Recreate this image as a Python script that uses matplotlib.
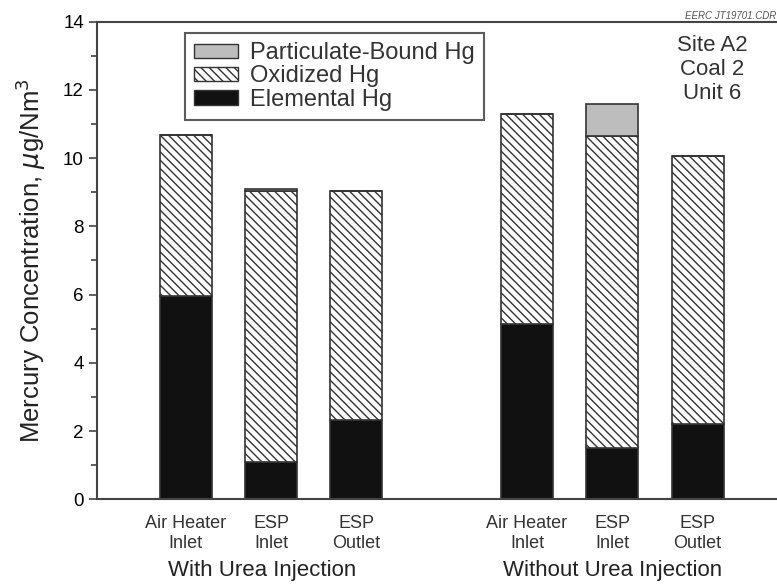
import numpy as np
import matplotlib.pyplot as plt
from matplotlib.patches import Patch

plt.rcParams['font.family'] = ['Liberation Sans', 'DejaVu Sans']
plt.rcParams['hatch.linewidth'] = 1.0

# data
locations = ['Air Heater\nInlet', 'ESP\nInlet', 'ESP\nOutlet',
             'Air Heater\nInlet', 'ESP\nInlet', 'ESP\nOutlet']
positions = [0, 1, 2, 4, 5, 6]
elemental = [5.95, 1.1, 2.33, 5.15, 1.5, 2.2]
oxidized = [4.72, 7.95, 6.72, 6.15, 9.15, 7.85]
particulate = [0.0, 0.05, 0.0, 0.0, 0.95, 0.0]
groups = ['With Urea Injection', 'Without Urea Injection']
group_centers = [0.9, 5.0]

fig = plt.figure(figsize=(7.77, 5.84), dpi=100)
ax = fig.add_axes([0.125, 0.145, 0.875, 0.818])

width = 0.61
elemental = np.array(elemental)
oxidized = np.array(oxidized)
particulate = np.array(particulate)

ax.bar(positions, elemental, width, color='#111111', edgecolor='#333333',
       linewidth=1.2)
ax.bar(positions, oxidized, width, bottom=elemental, color='white',
       edgecolor='#333333', hatch='\\\\\\\\', linewidth=1.2)
ax.bar(positions, particulate, width, bottom=elemental + oxidized,
       color='#bdbdbd', edgecolor='#333333', linewidth=1.2)

ax.set_xlim(-1.04, 6.93)
ax.set_ylim(0, 14)
ax.set_yticks(np.arange(0, 15, 2))
ax.set_yticks(np.arange(1, 14, 2), minor=True)
ax.tick_params(axis='y', which='major', length=6, width=1.2, labelsize=13.5,
               color='#444444')
ax.tick_params(axis='y', which='minor', length=4, width=1.2, color='#444444')
ax.set_xticks(positions)
ax.set_xticklabels(locations, fontsize=13, color='#333333', linespacing=1.25)
ax.tick_params(axis='x', length=0, pad=11)

for sp in ['left', 'bottom', 'top']:
    ax.spines[sp].set_linewidth(1.5)
    ax.spines[sp].set_color('#444444')
ax.spines['right'].set_visible(False)

ax.set_ylabel('Mercury Concentration, $\\mu$g/Nm$^3$', fontsize=18.5,
              color='#222222', labelpad=11)

for g, c in zip(groups, group_centers):
    ax.text(c, -2.1, g, ha='center', va='center', fontsize=16,
            color='#222222')

handles = [
    Patch(facecolor='#bdbdbd', edgecolor='#333333', label='Particulate-Bound Hg'),
    Patch(facecolor='white', edgecolor='#333333', hatch='\\\\\\\\', label='Oxidized Hg'),
    Patch(facecolor='#111111', edgecolor='#333333', label='Elemental Hg'),
]
leg = ax.legend(handles=handles, loc='upper left', bbox_to_anchor=(0.129, 0.977),
                fontsize=17, frameon=True, fancybox=False, edgecolor='#333333',
                handlelength=1.85, handleheight=0.55, handletextpad=0.5,
                labelspacing=0.06, borderpad=0.4, borderaxespad=0)
leg.get_frame().set_linewidth(1.5)
for t in leg.get_texts():
    t.set_color('#333333')

ax.text(0.905, 0.972, 'Site A2\nCoal 2\nUnit 6', transform=ax.transAxes,
        ha='center', va='top', fontsize=16, color='#333333', linespacing=1.2)
fig.text(0.999, 0.973, 'EERC JT19701.CDR', ha='right', va='center',
         fontsize=7, style='italic', color='#555555')

fig.savefig('out.png', dpi=100)
